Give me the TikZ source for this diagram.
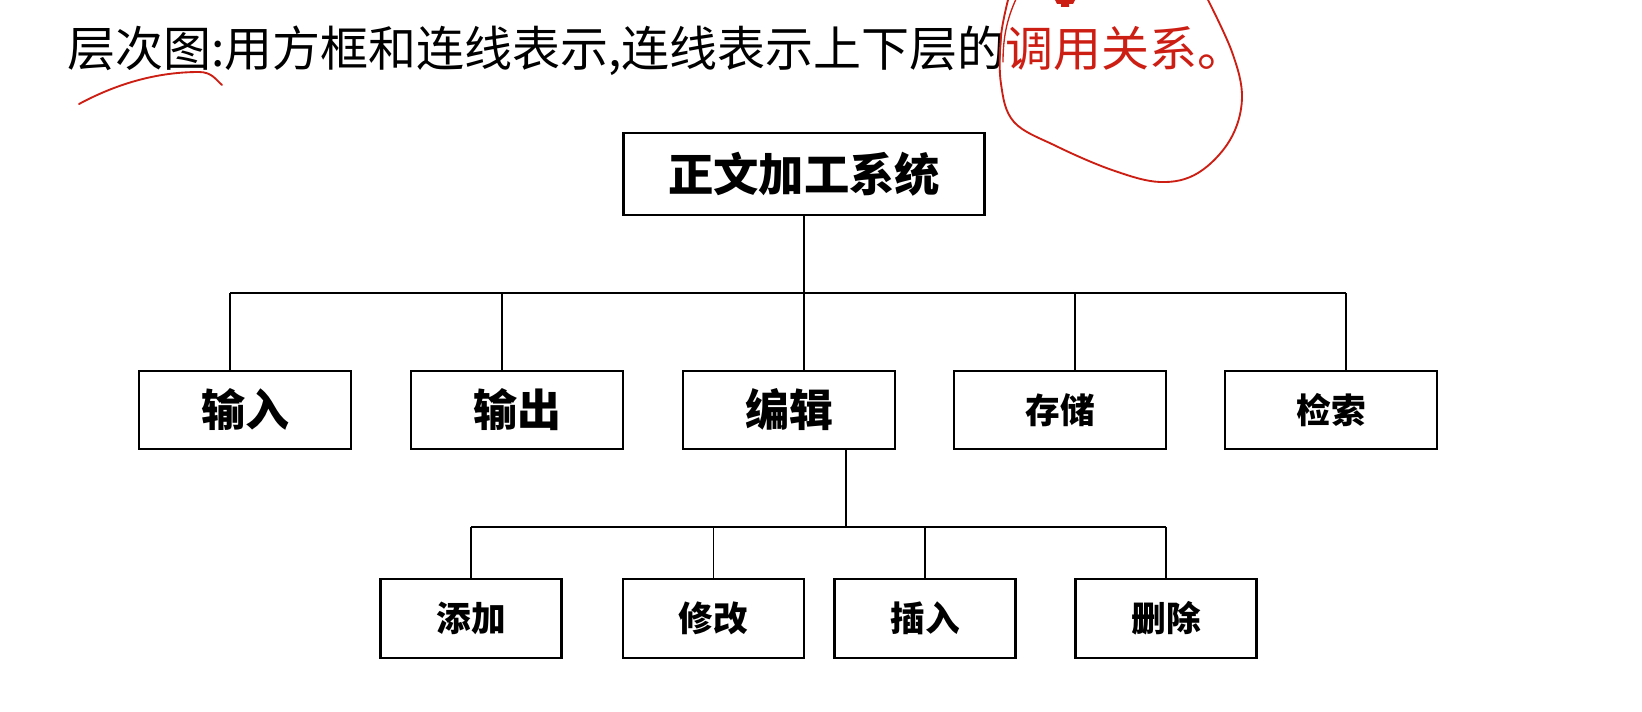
\documentclass[tikz,border=0pt]{standalone}
\usepackage{fontspec}
\setmainfont{Liberation Sans}
\newfontfamily\cjk{Noto Sans CJK SC}
\definecolor{inkred}{RGB}{205,30,20}
\tikzset{
  modbox/.style={draw,line width=1.6pt,inner sep=0pt,outer sep=0pt,fill=white},
  bigmod/.style={modbox,minimum width=159pt,minimum height=58.5pt,font=\cjk\bfseries\fontsize{33}{36}\selectfont},
  smallmod/.style={modbox,minimum width=159pt,minimum height=58.5pt,font=\cjk\bfseries\fontsize{26}{30}\selectfont},
  leafmod/.style={modbox,minimum width=135.75pt,minimum height=59.25pt,font=\cjk\bfseries\fontsize{26}{30}\selectfont},
  wire/.style={line width=1.3pt},
  pen/.style={inkred,line width=1.4pt,line cap=round}
}
\begin{document}
\begin{tikzpicture}[x=0.75pt,y=-0.75pt]
\useasboundingbox (0,0) rectangle (1642,712);
% heading
\node[anchor=base west,inner sep=0pt,font=\cjk\fontsize{36}{40}\selectfont] (head) at (67,67)
  {层次图:用方框和连线表示,连线表示上下层的{\color{inkred}调用关系。}};
% root
\node[modbox,minimum width=270.75pt,minimum height=61.5pt,font=\cjk\bfseries\fontsize{34}{38}\selectfont] (root) at (804,174) {正文加工系统};
% first level
\node[bigmod] (in) at (245,410) {输入};
\node[bigmod] (out) at (517,410) {输出};
\node[bigmod] (edit) at (789,410) {编辑};
\node[smallmod] (save) at (1060,410) {存储};
\node[smallmod] (find) at (1331,410) {检索};
% second level
\node[leafmod] (add) at (471,618.5) {添加};
\node[leafmod] (mod) at (713.5,618.5) {修改};
\node[leafmod] (ins) at (925,618.5) {插入};
\node[leafmod] (del) at (1166,618.5) {删除};
% bus lines
\coordinate (busA) at (804,293);
\coordinate (busB) at (846,527);
\draw[wire] (root.south) -- (busA);
\draw[wire] (230,293) coordinate (d1) -- (1346,293) coordinate (d5);
\coordinate (d2) at (502,293);
\coordinate (d4) at (1075,293);
\foreach \c/\n in {d1/in,d2/out,busA/edit,d4/save,d5/find}
  \draw[wire] (\c) -- (\c |- \n.north);
\draw[wire] (edit.south -| busB) -- (busB);
\draw[wire] (add.north |- busB) -- (del.north |- busB);
\foreach \n in {add,mod,ins,del}
  \draw[wire] (\n.north |- busB) -- (\n.north);
% hand-drawn marks
\draw[pen] (79,104) .. controls (120,82) and (160,72) .. (199,72) .. controls (212,72) and (216,80) .. (222,85);
\draw[pen] plot[smooth,tension=0.6] coordinates {(1206,-4) (1232,52) (1242,98) (1230,140) (1198,173) (1160,182) (1112,170) (1056,146) (1014,122) (1001,84) (1001,36) (1009,-4)};
\draw[pen,line width=1pt] (1017,-3) .. controls (1006,20) and (1003,40) .. (1003,62);
\fill[inkred] (1055,0) -- (1075,0) -- (1073,4) -- (1069,4) -- (1069,7) -- (1061,7) -- (1061,4) -- (1057,4) -- cycle;
\end{tikzpicture}
\end{document}
